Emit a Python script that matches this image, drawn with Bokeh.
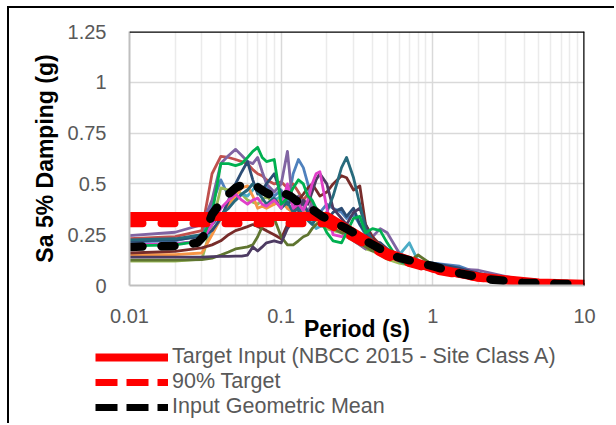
from bokeh.plotting import figure
from bokeh.layouts import column
from bokeh.models import Range1d, FixedTicker, CustomJSTickFormatter, Legend, LegendItem, Span
from bokeh.embed import file_html
from bokeh.resources import INLINE

# ---------------- data ----------------
periods = [0.01, 0.02, 0.03, 0.035, 0.04, 0.045, 0.05, 0.055, 0.06, 0.065, 0.07, 0.075,
           0.08, 0.09, 0.1, 0.11, 0.12, 0.13, 0.14, 0.15, 0.16, 0.17, 0.18, 0.2, 0.22,
           0.25, 0.27, 0.3, 0.33, 0.36, 0.4, 0.45, 0.5, 0.6, 0.7, 0.8, 1.0, 1.5, 2.0,
           3.0, 5.0, 10.0]

rec_purple = [0.245, 0.262, 0.30, 0.42, 0.60, 0.64, 0.67, 0.64, 0.61, 0.60, 0.63, 0.56,
              0.50, 0.46, 0.50, 0.66, 0.38, 0.44, 0.40, 0.36, 0.41, 0.37, 0.33, 0.31, 0.28,
              0.30, 0.27, 0.22, 0.20, 0.18, 0.24, 0.28, 0.26, 0.16, 0.13, 0.115, 0.10, 0.08,
              0.075, 0.045, 0.015, 0.006]
rec_green = [0.195, 0.20, 0.22, 0.35, 0.60, 0.60, 0.59, 0.60, 0.63, 0.66, 0.68, 0.63,
             0.61, 0.62, 0.40, 0.43, 0.48, 0.52, 0.50, 0.44, 0.42, 0.38, 0.33, 0.26, 0.22,
             0.21, 0.26, 0.33, 0.34, 0.26, 0.28, 0.27, 0.21, 0.12, 0.10, 0.09, 0.075, 0.045,
             0.03, 0.014, 0.006, 0.003]
rec_red = [0.23, 0.24, 0.27, 0.55, 0.635, 0.63, 0.62, 0.61, 0.60, 0.57, 0.55, 0.54,
           0.52, 0.50, 0.51, 0.48, 0.50, 0.46, 0.42, 0.45, 0.40, 0.38, 0.36, 0.33, 0.30,
           0.28, 0.27, 0.25, 0.22, 0.20, 0.19, 0.17, 0.15, 0.12, 0.10, 0.09, 0.08, 0.055,
           0.04, 0.022, 0.01, 0.004]
rec_blue = [0.215, 0.22, 0.25, 0.40, 0.52, 0.44, 0.42, 0.45, 0.47, 0.50, 0.48, 0.45,
            0.49, 0.44, 0.47, 0.40, 0.55, 0.62, 0.58, 0.50, 0.40, 0.38, 0.36, 0.40, 0.38,
            0.36, 0.33, 0.35, 0.30, 0.25, 0.20, 0.21, 0.17, 0.14, 0.12, 0.11, 0.11, 0.095,
            0.06, 0.03, 0.012, 0.005]
rec_aqua = [0.20, 0.205, 0.22, 0.26, 0.33, 0.40, 0.42, 0.45, 0.44, 0.47, 0.50, 0.48,
            0.46, 0.42, 0.44, 0.38, 0.36, 0.33, 0.38, 0.34, 0.31, 0.28, 0.29, 0.30, 0.28,
            0.31, 0.30, 0.24, 0.22, 0.20, 0.20, 0.19, 0.17, 0.15, 0.21, 0.12, 0.10, 0.07,
            0.045, 0.02, 0.008, 0.003]
rec_orange = [0.152, 0.152, 0.16, 0.25, 0.33, 0.40, 0.44, 0.48, 0.49, 0.44, 0.38, 0.39,
              0.38, 0.40, 0.42, 0.38, 0.36, 0.40, 0.37, 0.35, 0.33, 0.32, 0.31, 0.30, 0.28,
              0.27, 0.26, 0.24, 0.21, 0.19, 0.18, 0.16, 0.14, 0.12, 0.10, 0.09, 0.08, 0.05,
              0.035, 0.018, 0.007, 0.003]
rec_lightgreen = [0.12, 0.12, 0.13, 0.30, 0.48, 0.47, 0.47, 0.45, 0.42, 0.41, 0.40, 0.42,
                  0.44, 0.40, 0.43, 0.45, 0.41, 0.44, 0.40, 0.36, 0.34, 0.32, 0.30, 0.28,
                  0.27, 0.26, 0.24, 0.22, 0.20, 0.18, 0.17, 0.15, 0.13, 0.11, 0.10, 0.09,
                  0.08, 0.05, 0.035, 0.017, 0.007, 0.003]
rec_darkblue = [0.22, 0.225, 0.24, 0.27, 0.33, 0.42, 0.50, 0.56, 0.61, 0.52, 0.45, 0.47,
                0.50, 0.55, 0.45, 0.40, 0.42, 0.38, 0.41, 0.36, 0.34, 0.33, 0.35, 0.32,
                0.36, 0.38, 0.34, 0.38, 0.30, 0.26, 0.22, 0.21, 0.18, 0.14, 0.13, 0.12,
                0.11, 0.085, 0.06, 0.03, 0.012, 0.005]
rec_teal = [0.225, 0.23, 0.25, 0.30, 0.35, 0.38, 0.42, 0.45, 0.47, 0.50, 0.46, 0.43,
            0.40, 0.43, 0.38, 0.41, 0.36, 0.38, 0.34, 0.32, 0.30, 0.33, 0.34, 0.36, 0.44,
            0.58, 0.63, 0.53, 0.40, 0.28, 0.22, 0.20, 0.17, 0.14, 0.12, 0.11, 0.10, 0.07,
            0.05, 0.025, 0.01, 0.004]
rec_darkred = [0.16, 0.168, 0.185, 0.20, 0.22, 0.25, 0.27, 0.28, 0.29, 0.30, 0.29, 0.28,
               0.27, 0.25, 0.23, 0.30, 0.36, 0.42, 0.45, 0.48, 0.50, 0.47, 0.44, 0.46,
               0.50, 0.54, 0.53, 0.47, 0.49, 0.30, 0.24, 0.20, 0.17, 0.13, 0.12, 0.11,
               0.09, 0.06, 0.04, 0.02, 0.008, 0.003]
rec_darkpurple = [0.14, 0.14, 0.14, 0.142, 0.143, 0.143, 0.145, 0.145, 0.15, 0.19, 0.17,
                  0.19, 0.21, 0.22, 0.21, 0.28, 0.32, 0.36, 0.42, 0.40, 0.46, 0.52, 0.55,
                  0.50, 0.38, 0.33, 0.30, 0.36, 0.38, 0.30, 0.22, 0.18, 0.16, 0.13, 0.11,
                  0.10, 0.09, 0.06, 0.04, 0.02, 0.008, 0.003]
rec_olive = [0.125, 0.125, 0.127, 0.135, 0.15, 0.165, 0.18, 0.185, 0.19, 0.20, 0.24, 0.29,
             0.32, 0.33, 0.24, 0.20, 0.20, 0.22, 0.24, 0.25, 0.28, 0.30, 0.31, 0.30, 0.28,
             0.26, 0.25, 0.23, 0.21, 0.19, 0.17, 0.16, 0.14, 0.13, 0.12, 0.15, 0.10, 0.06,
             0.04, 0.02, 0.008, 0.003]
rec_magenta = [0.20, 0.205, 0.22, 0.30, 0.38, 0.42, 0.45, 0.42, 0.40, 0.42, 0.43, 0.40,
               0.39, 0.42, 0.38, 0.50, 0.38, 0.40, 0.37, 0.42, 0.50, 0.55, 0.56, 0.38,
               0.25, 0.24, 0.25, 0.24, 0.22, 0.21, 0.20, 0.18, 0.15, 0.12, 0.10, 0.09,
               0.075, 0.045, 0.03, 0.014, 0.006, 0.003]

record_colors = ["#4F81BD", "#C0504D", "#9BBB59", "#8064A2", "#4BACC6", "#F79646",
                 "#2C4D75", "#772C2A", "#5F7530", "#4D3B62", "#276A7C", "#E040C8", "#00B050"]
records = [rec_blue, rec_red, rec_lightgreen, rec_purple, rec_aqua, rec_orange,
           rec_darkblue, rec_darkred, rec_olive, rec_darkpurple, rec_teal, rec_magenta,
           rec_green]

target_T = [0.01, 0.2, 0.5, 1.0, 2.0, 5.0, 10.0]
target_Sa = [0.34, 0.34, 0.16, 0.085, 0.042, 0.012, 0.006]
target90_Sa = [0.306, 0.306, 0.144, 0.0765, 0.038, 0.011, 0.0054]

mean_T = [0.01, 0.02, 0.028, 0.031, 0.035, 0.042, 0.05, 0.057, 0.068, 0.078, 0.088, 0.1,
          0.115, 0.13, 0.156, 0.187, 0.224, 0.27, 0.3, 0.36, 0.45, 0.58, 0.74, 1.0, 1.5,
          2.4, 3.9, 6.7, 10.0]
mean_Sa = [0.19, 0.195, 0.21, 0.245, 0.35, 0.43, 0.48, 0.50, 0.49, 0.46, 0.44, 0.46,
           0.44, 0.41, 0.38, 0.34, 0.31, 0.28, 0.26, 0.22, 0.18, 0.14, 0.12, 0.095, 0.06,
           0.03, 0.014, 0.008, 0.006]

x_ticks = [0.01, 0.1, 1, 10]
y_ticks = [0, 0.25, 0.5, 0.75, 1, 1.25]
legend_labels = ["Target Input (NBCC 2015 - Site Class A)", "90% Target", "Input Geometric Mean"]

# ---------------- styles ----------------
FONT = "Liberation Sans"
TARGET_STYLE = dict(line_color="#FF0000", line_width=9, line_cap="round", line_join="round")
T90_STYLE = dict(line_color="#FF0000", line_width=8, line_dash="13 19", line_cap="round",
                 line_join="round")
MEAN_STYLE = dict(line_color="black", line_width=8.5, line_dash="13 19", line_cap="round",
                  line_join="round")
LEG_TARGET = dict(line_color="#FF0000", line_width=8)
LEG_T90 = dict(line_color="#FF0000", line_width=7, line_dash="22 9")
LEG_MEAN = dict(line_color="black", line_width=7, line_dash="22 9")

# ---------------- main chart ----------------
p = figure(width=605, height=337, x_axis_type="log",
           x_range=Range1d(0.01, 10), y_range=Range1d(0, 1.25),
           output_backend="svg", toolbar_location=None,
           min_border_left=120, min_border_right=30, min_border_top=23, min_border_bottom=60)
p.frame_align = False
p.outline_line_color = None
p.background_fill_color = "white"
p.border_fill_color = "white"

minor = [m * 10.0 ** e for e in (-2, -1, 0) for m in range(2, 10)]
xa = p.xaxis[0]
xa.ticker = FixedTicker(ticks=x_ticks, minor_ticks=minor)
ya = p.yaxis[0]
ya.ticker = FixedTicker(ticks=y_ticks)
for ax in (xa, ya):
    ax.formatter = CustomJSTickFormatter(code="return tick.toString()")
    ax.major_tick_out = 0
    ax.major_tick_in = 0
    ax.minor_tick_out = 0
    ax.minor_tick_in = 0
    ax.axis_line_color = "#bfbfbf"
    ax.axis_line_width = 2
    ax.major_label_text_font = FONT
    ax.major_label_text_font_size = "20px"
    ax.major_label_text_color = "#595959"
    ax.major_label_standoff = 23
    ax.axis_label_text_font = FONT
    ax.axis_label_text_font_size = "23px"
    ax.axis_label_text_font_style = "bold"
    ax.axis_label_text_color = "black"
xa.axis_label = "Period (s)"
xa.axis_label_standoff = -10
ya.axis_label = "Sa 5% Damping (g)"
ya.axis_label_standoff = 7

p.xgrid.grid_line_color = "#d9d9d9"
p.xgrid.grid_line_width = 1.5
p.xgrid.minor_grid_line_color = "#ebebeb"
p.xgrid.minor_grid_line_width = 1.5
p.ygrid.grid_line_color = "#d9d9d9"
p.ygrid.grid_line_width = 1.5

for vals, col in zip(records, record_colors):
    p.line(periods, vals, line_color=col, line_width=2.8, line_join="round")

p.line(target_T, target_Sa, **TARGET_STYLE)
p.line(target_T, target90_Sa, **T90_STYLE)
p.line(mean_T, mean_Sa, **MEAN_STYLE)

p.add_layout(Span(location=1.25, dimension="width", line_color="black", line_width=2.5))
p.add_layout(Span(location=10, dimension="height", line_color="black", line_width=2.5))

# ---------------- legend strip ----------------
q = figure(width=605, height=78, x_range=Range1d(0, 1), y_range=Range1d(0, 1),
           output_backend="svg", toolbar_location=None,
           x_axis_location=None, y_axis_location=None,
           min_border_left=0, min_border_right=0, min_border_top=0, min_border_bottom=0)
q.frame_align = False
q.grid.visible = False
q.outline_line_color = None
q.background_fill_color = "white"
q.border_fill_color = "white"
# legend-only renderers, their points lie outside the strip's visible range
lr_target = q.line(x=[-2, -1], y=[-2, -2], **LEG_TARGET)
lr_90 = q.line(x=[-2, -1], y=[-2, -2], **LEG_T90)
lr_mean = q.line(x=[-2, -1], y=[-2, -2], **LEG_MEAN)

legend = Legend(items=[LegendItem(label=legend_labels[0], renderers=[lr_target]),
                       LegendItem(label=legend_labels[1], renderers=[lr_90]),
                       LegendItem(label=legend_labels[2], renderers=[lr_mean])],
                location=(86, 4), orientation="vertical",
                glyph_width=73, glyph_height=24, label_height=24, label_standoff=4,
                spacing=0, padding=0, margin=0, border_line_color=None,
                background_fill_alpha=0,
                label_text_font=FONT, label_text_font_size="21.5px",
                label_text_color="#595959", label_text_baseline="middle")
q.add_layout(legend)

layout = column(p, q, spacing=0,
                styles={"margin-left": "7px", "margin-top": "6px",
                        "border-left": "2px solid black", "border-top": "2px solid black"})

open("out.html", "w").write(file_html(layout, INLINE))
